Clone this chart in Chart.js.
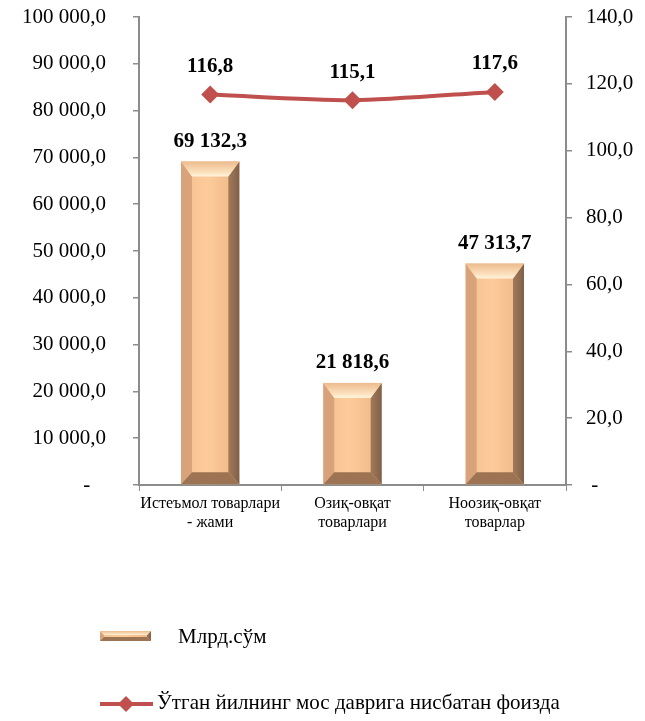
<!DOCTYPE html>
<html lang="uz">
<head>
    <meta charset="UTF-8">
    <title>Истеъмол товарлари</title>
    <script src="https://cdn.jsdelivr.net/npm/chart.js@4.4.0/dist/chart.umd.min.js"></script>
    <style>
        body {
            margin: 0;
            background: #fff;
        }
        .wrap {
            position: relative;
            width: 645px;
            height: 721px;
        }
    </style>
</head>
<body>
    <div class="wrap">
        <canvas id="chart"></canvas>
    </div>

    <script>
        const categories = [['Истеъмол товарлари', '- жами'], ['Озиқ-овқат', 'товарлари'], ['Ноозиқ-овқат', 'товарлар']];
        const sumValues = [69132.3, 21818.6, 47313.7];
        const percentValues = [116.8, 115.1, 117.6];
        const sumLabel = 'Млрд.сўм';
        const percentLabel = 'Ўтган йилнинг мос даврига нисбатан фоизда';

        const FONT = "'Liberation Serif', 'Times New Roman', serif";
        const RED = '#C0504D';

        // 69132.3 -> "69 132,3"
        function fmt(v) {
            const parts = v.toFixed(1).split('.');
            return parts[0].replace(/\B(?=(\d{3})+(?!\d))/g, ' ') + ',' + parts[1];
        }

        // bar with Excel-like bevel: b = side width, bt = top depth, bb = bottom depth
        function bevelBar(ctx, left, top, right, bottom, b, bt, bb) {
            const w = right - left;
            const h = bottom - top;
            bt = Math.min(bt, h / 2);
            bb = Math.min(bb, h / 2);
            const face = ctx.createLinearGradient(left, 0, right, 0);
            face.addColorStop(0, '#F6BF8E');
            face.addColorStop(0.45, '#FDCB9B');
            face.addColorStop(1, '#EDB586');
            ctx.fillStyle = face;
            ctx.fillRect(left, top, w, h);
            // left side
            ctx.fillStyle = '#D8A37A';
            ctx.beginPath();
            ctx.moveTo(left, top); ctx.lineTo(left + b, top + bt);
            ctx.lineTo(left + b, bottom - bb); ctx.lineTo(left, bottom);
            ctx.closePath(); ctx.fill();
            // right side
            const rs = ctx.createLinearGradient(right - b, 0, right, 0);
            rs.addColorStop(0, '#A27A58');
            rs.addColorStop(1, '#80604A');
            ctx.fillStyle = rs;
            ctx.beginPath();
            ctx.moveTo(right, top); ctx.lineTo(right - b, top + bt);
            ctx.lineTo(right - b, bottom - bb); ctx.lineTo(right, bottom);
            ctx.closePath(); ctx.fill();
            // top bevel
            const tb = ctx.createLinearGradient(0, top, 0, top + bt);
            tb.addColorStop(0, '#EDBB8E');
            tb.addColorStop(0.7, '#FBE0BC');
            tb.addColorStop(1, '#FFF4DC');
            ctx.fillStyle = tb;
            ctx.beginPath();
            ctx.moveTo(left, top); ctx.lineTo(right, top);
            ctx.lineTo(right - b, top + bt); ctx.lineTo(left + b, top + bt);
            ctx.closePath(); ctx.fill();
            // bottom bevel
            ctx.fillStyle = '#9C7453';
            ctx.beginPath();
            ctx.moveTo(left, bottom); ctx.lineTo(right, bottom);
            ctx.lineTo(right - b, bottom - bb); ctx.lineTo(left + b, bottom - bb);
            ctx.closePath(); ctx.fill();
        }

        const bevelPlugin = {
            id: 'bevel',
            afterDatasetDraw(chart, args) {
                if (chart.data.datasets[args.index].type !== 'bar') return;
                const ctx = chart.ctx;
                ctx.save();
                args.meta.data.forEach(el => {
                    const p = el.getProps(['x', 'y', 'base', 'width'], true);
                    bevelBar(ctx, p.x - p.width / 2, p.y, p.x + p.width / 2, p.base, 11, 15, 12);
                });
                ctx.restore();
            }
        };

        const labelPlugin = {
            id: 'valueLabels',
            afterDatasetsDraw(chart) {
                const ctx = chart.ctx;
                ctx.save();
                ctx.font = 'bold 21px ' + FONT;
                ctx.fillStyle = '#000';
                ctx.textAlign = 'center';
                ctx.textBaseline = 'middle';
                chart.data.datasets.forEach((ds, i) => {
                    const meta = chart.getDatasetMeta(i);
                    meta.data.forEach((el, j) => {
                        const off = ds.type === 'bar' ? 20 : 28;
                        ctx.fillText(fmt(ds.data[j]), el.x, el.y - off);
                    });
                });
                ctx.restore();
            }
        };

        const legendPlugin = {
            id: 'bottomLegend',
            afterDraw(chart) {
                const ctx = chart.ctx;
                ctx.save();
                bevelBar(ctx, 100, 631, 151, 641, 4, 4, 4);
                ctx.font = '21px ' + FONT;
                ctx.fillStyle = '#000';
                ctx.textBaseline = 'middle';
                ctx.fillText(sumLabel, 178, 637);

                ctx.strokeStyle = RED;
                ctx.lineWidth = 4;
                ctx.beginPath();
                ctx.moveTo(100, 704); ctx.lineTo(153, 704);
                ctx.stroke();
                ctx.fillStyle = RED;
                ctx.beginPath();
                ctx.moveTo(126, 696); ctx.lineTo(134, 704); ctx.lineTo(126, 712); ctx.lineTo(118, 704);
                ctx.closePath(); ctx.fill();
                ctx.fillStyle = '#000';
                ctx.fillText(percentLabel, 157, 703);
                ctx.restore();
            }
        };

        const axisGray = '#8C8C8C';

        new Chart(document.getElementById('chart'), {
            data: {
                labels: categories,
                datasets: [{
                    type: 'line',
                    label: percentLabel,
                    data: percentValues,
                    yAxisID: 'y1',
                    order: 0,
                    borderColor: RED,
                    borderWidth: 4,
                    tension: 0.25,
                    pointStyle: 'rectRot',
                    pointRadius: 9,
                    pointBackgroundColor: RED,
                    pointBorderWidth: 0
                }, {
                    type: 'bar',
                    label: sumLabel,
                    data: sumValues,
                    yAxisID: 'y',
                    order: 1,
                    backgroundColor: 'rgba(0,0,0,0)',
                    barPercentage: 0.41,
                    categoryPercentage: 1
                }]
            },
            options: {
                responsive: true,
                maintainAspectRatio: false,
                animation: false,
                layout: { padding: { top: 17, left: 0, right: 0, bottom: 0 } },
                plugins: {
                    legend: { display: false },
                    tooltip: { enabled: false }
                },
                scales: {
                    x: {
                        grid: { display: true, drawOnChartArea: false, drawTicks: true, tickLength: 6, color: axisGray, offset: true },
                        border: { color: axisGray, width: 2 },
                        ticks: {
                            color: '#000',
                            font: { family: FONT, size: 16 },
                            maxRotation: 0,
                            autoSkip: false,
                            padding: 3
                        },
                        afterFit(s) { s.height = 236; }
                    },
                    y: {
                        position: 'left',
                        min: 0,
                        max: 100000,
                        grid: { display: true, drawOnChartArea: false, drawTicks: true, tickLength: 6, color: axisGray, lineWidth: 1.5 },
                        border: { color: axisGray, width: 2 },
                        ticks: {
                            stepSize: 10000,
                            color: '#000',
                            padding: 27,
                            font: { family: FONT, size: 21 },
                            callback: v => v === 0 ? '-   ' : fmt(v)
                        },
                        afterFit(s) { s.width = 139; s.paddingTop = 0; s.paddingBottom = 0; }
                    },
                    y1: {
                        position: 'right',
                        min: 0,
                        max: 140,
                        grid: { display: true, drawOnChartArea: false, drawTicks: true, tickLength: 6, color: axisGray, lineWidth: 1.5 },
                        border: { color: axisGray, width: 2 },
                        ticks: {
                            stepSize: 20,
                            color: '#000',
                            padding: 14,
                            font: { family: FONT, size: 21 },
                            callback: v => v === 0 ? ' -' : fmt(v)
                        },
                        afterFit(s) { s.width = 79; s.paddingTop = 0; s.paddingBottom = 0; }
                    }
                }
            },
            plugins: [bevelPlugin, labelPlugin, legendPlugin]
        });
    </script>
</body>
</html>
